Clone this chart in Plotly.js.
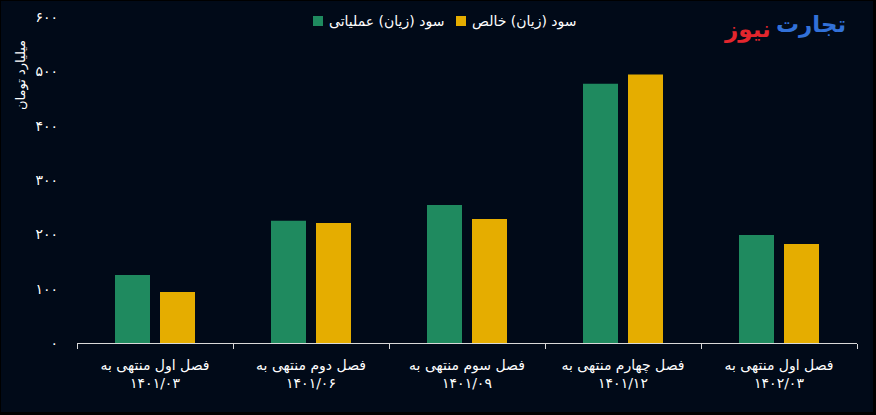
<!DOCTYPE html>
<html>
<head>
<meta charset="utf-8">
<script src="https://cdn.plot.ly/plotly-3.0.1.min.js"></script>
<style>
  html, body { margin: 0; padding: 0; background: #000000; width: 876px; height: 415px; overflow: hidden; }
  #chart { position: absolute; left: 1px; top: 1px; width: 872px; height: 411px; }
</style>
</head>
<body>
<div id="chart"></div>
<script>
// ---- data ----
const categories = [
  'فصل اول منتهی به<br>۱۴۰۱/۰۳',
  'فصل دوم منتهی به<br>۱۴۰۱/۰۶',
  'فصل سوم منتهی به<br>۱۴۰۱/۰۹',
  'فصل چهارم منتهی به<br>۱۴۰۱/۱۲',
  'فصل اول منتهی به<br>۱۴۰۲/۰۳'
];
const seriesNames = ['سود (زیان) عملیاتی', 'سود (زیان) خالص'];
const operatingProfit = [125, 225, 254, 477, 199];
const netProfit = [94, 221, 228, 494, 182];
const yTickVals = [0, 100, 200, 300, 400, 500, 600];
const yTickText = ['۰', '۱۰۰', '۲۰۰', '۳۰۰', '۴۰۰', '۵۰۰', '۶۰۰'];
const yTitle = 'میلیارد تومان';
const logoRed = 'نیوز';
const logoBlue = 'تجارت';

// ---- style ----
const GREEN = '#1f8a5f';
const YELLOW = '#e5ad00';
const BG = '#010a18';
const TXT = '#ffffff';
const FONT = 'DejaVu Sans, Noto Sans, sans-serif';

// plot-area geometry (div pixels)
const W = 872, H = 411;
const M = {l: 76, r: 16, t: 16, b: 69};
const PW = W - M.l - M.r, PH = H - M.t - M.b;
const px = x => (x - 1 - M.l) / PW;       // page x -> paper
const py = y => (H - M.b - (y - 1)) / PH; // page y -> paper

const traces = [
  {type: 'bar', name: seriesNames[0], x: categories, y: operatingProfit,
   marker: {color: GREEN}, hoverinfo: 'skip'},
  {type: 'bar', name: seriesNames[1], x: categories, y: netProfit,
   marker: {color: YELLOW}, hoverinfo: 'skip'}
];

const layout = {
  width: W, height: H,
  margin: M,
  paper_bgcolor: BG, plot_bgcolor: BG,
  showlegend: false,
  barmode: 'group',
  bargap: 0.423, bargroupgap: 0.222,
  font: {family: FONT, color: TXT, size: 14},
  xaxis: {
    type: 'category',
    showgrid: false, zeroline: false,
    showline: true, linecolor: '#d9d9d9', linewidth: 1,
    ticks: 'outside', tickson: 'boundaries', ticklen: 5, tickcolor: '#d9d9d9',
    tickfont: {family: FONT, size: 14, color: TXT},
    ticklabelstandoff: 9,
    fixedrange: true
  },
  yaxis: {
    range: [0, 600],
    tickvals: yTickVals, ticktext: yTickText,
    showgrid: false, zeroline: false, showline: false, ticks: '',
    tickfont: {family: FONT, size: 14, color: TXT},
    ticklabelstandoff: 18,
    fixedrange: true
  },
  shapes: [
    {type: 'rect', xref: 'paper', yref: 'paper',
     x0: px(313), x1: px(323), y0: py(26), y1: py(16),
     fillcolor: GREEN, line: {width: 0}},
    {type: 'rect', xref: 'paper', yref: 'paper',
     x0: px(456), x1: px(466), y0: py(26), y1: py(16),
     fillcolor: YELLOW, line: {width: 0}}
  ],
  annotations: [
    {xref: 'paper', yref: 'paper', x: px(327), y: py(21), xanchor: 'left', yanchor: 'middle',
     text: seriesNames[0], showarrow: false, font: {family: FONT, size: 14, color: TXT}},
    {xref: 'paper', yref: 'paper', x: px(470), y: py(21), xanchor: 'left', yanchor: 'middle',
     text: seriesNames[1], showarrow: false, font: {family: FONT, size: 14, color: TXT}},
    {xref: 'paper', yref: 'paper', x: px(21), y: py(75), xanchor: 'center', yanchor: 'middle',
     text: yTitle, textangle: -90, showarrow: false, font: {family: FONT, size: 13, color: TXT}},
    {xref: 'paper', yref: 'paper', x: px(773), y: py(29), xanchor: 'right', yanchor: 'middle',
     text: '<b>' + logoRed + '</b>', showarrow: false, font: {family: FONT, size: 23, color: '#e3262d'}},
    {xref: 'paper', yref: 'paper', x: px(774), y: py(25), xanchor: 'left', yanchor: 'middle',
     text: '<b>' + logoBlue + '</b>', showarrow: false, font: {family: FONT, size: 23, color: '#3271d8'}}
  ]
};

Plotly.newPlot('chart', traces, layout, {staticPlot: true, displayModeBar: false});
</script>
</body>
</html>
